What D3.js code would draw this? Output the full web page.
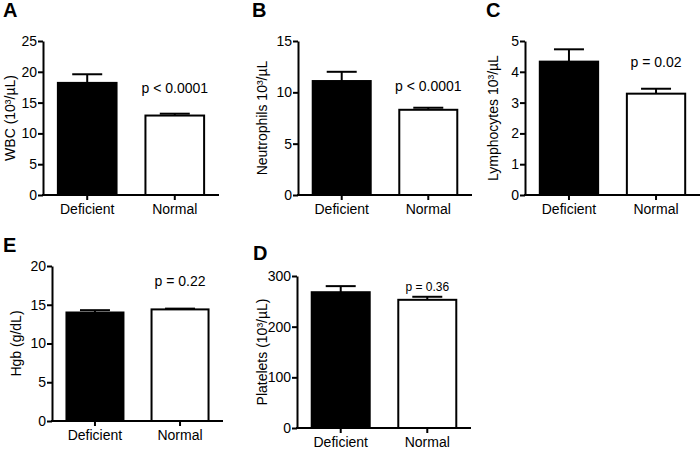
<!DOCTYPE html>
<html><head><meta charset="utf-8">
<script src="https://cdn.jsdelivr.net/npm/d3@7"></script>
<style>body{margin:0;background:#fff}svg{display:block}text{font-family:"Liberation Sans",Arial,sans-serif;fill:#000}</style>
</head><body>
<svg id="c" width="700" height="449"></svg>
<script>
const categories = ["Deficient", "Normal"];
const wbcMean = [18.2, 12.9], wbcErr = [19.6, 13.2];
const neuMean = [11.1, 8.3], neuErr = [12.0, 8.5];
const lymMean = [4.33, 3.29], lymErr = [4.73, 3.45];
const hgbMean = [14.0, 14.4], hgbErr = [14.3, 14.5];
const pltMean = [268, 253], pltErr = [280, 259];
const wbcTicks = [0,5,10,15,20,25], neuTicks = [0,5,10,15], lymTicks = [0,1,2,3,4,5],
      hgbTicks = [0,5,10,15,20], pltTicks = [0,100,200,300];
const pTexts = ["p < 0.0001", "p < 0.0001", "p = 0.02", "p = 0.22", "p = 0.36"];
const pAt = [16.5, 10.1, 4.16, 17.4, 270];
const yLabels = ["WBC (10³/µL)", "Neutrophils 10³/µL", "Lymphocytes 10³/µL", "Hgb (g/dL)", "Platelets (10³/µL)"];
const letters = ["A","B","C","E","D"];

const panels = [
  {mean:wbcMean, err:wbcErr, ticks:wbcTicks, max:25, x0:43, x1:219, top:41, bot:195, lx:3, ly:17, ylx:10, pfs:14},
  {mean:neuMean, err:neuErr, ticks:neuTicks, max:15, x0:298, x1:472, top:41, bot:195, lx:252, ly:17, ylx:262, pfs:14},
  {mean:lymMean, err:lymErr, ticks:lymTicks, max:5, x0:525, x1:700, top:41, bot:195, lx:486, ly:17, ylx:493, pfs:14},
  {mean:hgbMean, err:hgbErr, ticks:hgbTicks, max:20, x0:52, x1:223, top:266, bot:421, lx:3, ly:252, ylx:16, pfs:14},
  {mean:pltMean, err:pltErr, ticks:pltTicks, max:300, x0:297, x1:471, top:276, bot:428, lx:253, ly:260, ylx:262, pfs:12}
];

const svg = d3.select("#c");
panels.forEach((p, i) => {
  const g = svg.append("g");
  const x = d3.scaleBand().domain(categories).range([p.x0, p.x1]).paddingInner(0.33).paddingOuter(0.17);
  const y = d3.scaleLinear().domain([0, p.max]).range([p.bot, p.top]);
  g.selectAll("rect").data(categories).join("rect")
    .attr("x", d => x(d)).attr("width", x.bandwidth())
    .attr("y", (d, j) => y(p.mean[j])).attr("height", (d, j) => y(0) - y(p.mean[j]))
    .attr("fill", (d, j) => j === 0 ? "#000" : "#fff")
    .attr("stroke", "#000").attr("stroke-width", 2);
  categories.forEach((c, j) => {
    const cx = x(c) + x.bandwidth() / 2;
    g.append("line").attr("x1", cx).attr("x2", cx).attr("y1", y(p.mean[j])).attr("y2", y(p.err[j]))
      .attr("stroke", "#000").attr("stroke-width", 2);
    g.append("line").attr("x1", cx - 15).attr("x2", cx + 15).attr("y1", y(p.err[j])).attr("y2", y(p.err[j]))
      .attr("stroke", "#000").attr("stroke-width", 2);
  });
  const ya = g.append("g").attr("transform", `translate(${p.x0},0)`)
    .call(d3.axisLeft(y).tickValues(p.ticks).tickFormat(d3.format("~g")).tickSize(5).tickSizeOuter(0).tickPadding(1));
  ya.select(".domain").attr("stroke-width", 2);
  ya.selectAll(".tick line").attr("stroke-width", 2);
  ya.selectAll("text").attr("font-size", 14).attr("font-family", '"Liberation Sans",Arial,sans-serif');
  const xa = g.append("g").attr("transform", `translate(0,${p.bot})`)
    .call(d3.axisBottom(x).tickSize(5).tickSizeOuter(0).tickPadding(4));
  xa.select(".domain").attr("stroke-width", 2).attr("d", `M${p.x0 - 1},0H${p.x1}`);
  xa.selectAll(".tick line").attr("stroke-width", 2);
  xa.selectAll("text").attr("font-size", 14).attr("font-family", '"Liberation Sans",Arial,sans-serif');
  g.append("text").attr("transform", `translate(${p.ylx},${(p.top + p.bot) / 2}) rotate(-90)`)
    .attr("text-anchor", "middle").attr("dy", "0.35em").attr("font-size", 14).text(yLabels[i]);
  g.append("text").attr("x", x("Normal") + x.bandwidth() / 2).attr("y", y(pAt[i]))
    .attr("text-anchor", "middle").attr("font-size", p.pfs).text(pTexts[i]);
  g.append("text").attr("x", p.lx).attr("y", p.ly).attr("font-size", 20).attr("font-weight", "bold").text(letters[i]);
});
</script>
</body></html>
